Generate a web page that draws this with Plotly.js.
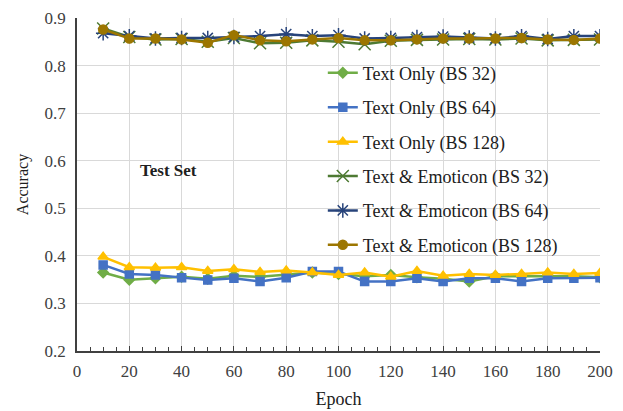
<!DOCTYPE html>
<html><head><meta charset="utf-8">
<script src="https://cdn.plot.ly/plotly-3.0.1.min.js"></script>
<style>html,body{margin:0;padding:0;background:#fff}#chart{width:623px;height:411px}</style>
</head><body><div id="chart"></div>
<script>
const epochs = [10,20,30,40,50,60,70,80,90,100,110,120,130,140,150,160,170,180,190,200];
const textBS32 = [0.365,0.350,0.353,0.356,0.352,0.358,0.356,0.360,0.365,0.362,0.357,0.360,0.355,0.352,0.346,0.357,0.357,0.357,0.357,0.355];
const textBS64 = [0.381,0.362,0.360,0.354,0.349,0.353,0.346,0.354,0.367,0.367,0.346,0.346,0.353,0.346,0.353,0.353,0.346,0.353,0.353,0.354];
const textBS128 = [0.398,0.376,0.375,0.376,0.368,0.372,0.366,0.369,0.365,0.360,0.365,0.356,0.368,0.358,0.362,0.360,0.362,0.365,0.362,0.364];
const emoBS32 = [0.878,0.860,0.855,0.856,0.850,0.858,0.847,0.848,0.853,0.850,0.845,0.852,0.854,0.855,0.856,0.855,0.857,0.853,0.854,0.855];
const emoBS64 = [0.868,0.862,0.857,0.858,0.858,0.860,0.862,0.866,0.862,0.864,0.857,0.858,0.860,0.861,0.859,0.857,0.862,0.856,0.862,0.862];
const emoBS128 = [0.876,0.857,0.857,0.855,0.848,0.864,0.853,0.851,0.855,0.858,0.853,0.853,0.855,0.857,0.857,0.857,0.858,0.855,0.854,0.857];
const names = ["Text Only (BS 32)","Text Only (BS 64)","Text Only (BS 128)","Text & Emoticon (BS 32)","Text & Emoticon (BS 64)","Text & Emoticon (BS 128)"];
const series = [textBS32,textBS64,textBS128,emoBS32,emoBS64,emoBS128];
const FAM = "Liberation Serif";
const styles = [
  {c:"#70AD47", s:"diamond", sz:8},
  {c:"#4472C4", s:"square", sz:8},
  {c:"#FFC000", s:"triangle-up", sz:9},
  {c:"#4E7A33", s:"x-thin-open", sz:12},
  {c:"#27437A", s:"asterisk-open", sz:12},
  {c:"#9C7600", s:"circle", sz:9}
];
const traces = series.map((ys,i)=>({
  x: epochs, y: ys, name: names[i], type:"scatter", mode:"lines+markers",
  legendgroup: "g"+i,
  line:{color:styles[i].c, width:2.5},
  marker:{color:styles[i].c, symbol:styles[i].s, size:styles[i].sz, line:{color:styles[i].c, width:1.5}}
}));
const layout = {
  width:623, height:411,
  margin:{l:77, r:23, t:18, b:60},
  paper_bgcolor:"#fff", plot_bgcolor:"#fff",
  font:{family:FAM, color:"#404040", size:15},
  xaxis:{range:[0,200], dtick:20, tick0:0, showgrid:true, gridcolor:"#d9d9d9", gridwidth:1,
    showline:true, linecolor:"#404040", linewidth:1.5, ticks:"inside", ticklen:5, tickcolor:"#404040",
    minor:{dtick:5, ticks:"inside", ticklen:4, tickcolor:"#404040", showgrid:false},
    zeroline:false, tickfont:{family:FAM, size:17, color:"#404040"}, ticklabelstandoff:4,
    title:{text:"Epoch", font:{family:FAM, size:18, color:"#202020"}, standoff:12}},
  yaxis:{range:[0.2,0.9], dtick:0.1, tick0:0.2, tickformat:".1f", showgrid:true, gridcolor:"#d9d9d9", gridwidth:1,
    showline:true, linecolor:"#404040", linewidth:1.5, ticks:"", zeroline:false,
    tickfont:{family:FAM, size:17, color:"#404040"}, ticklabelstandoff:6,
    title:{text:"Accuracy", font:{family:FAM, size:16, color:"#202020"}, standoff:12}},
  showlegend:true,
  legend:{x:0.47, y:0.89, xanchor:"left", yanchor:"top", bgcolor:"rgba(255,255,255,0)",
    font:{family:FAM, size:18, color:"#202020"}, tracegroupgap:8, itemwidth:30},
  annotations:[{text:"<b>Test Set</b>", x:35, y:0.58, xref:"x", yref:"y", showarrow:false,
    font:{family:FAM, size:17, color:"#202020"}}]
};
Plotly.newPlot("chart", traces, layout, {displayModeBar:false});
</script></body></html>
